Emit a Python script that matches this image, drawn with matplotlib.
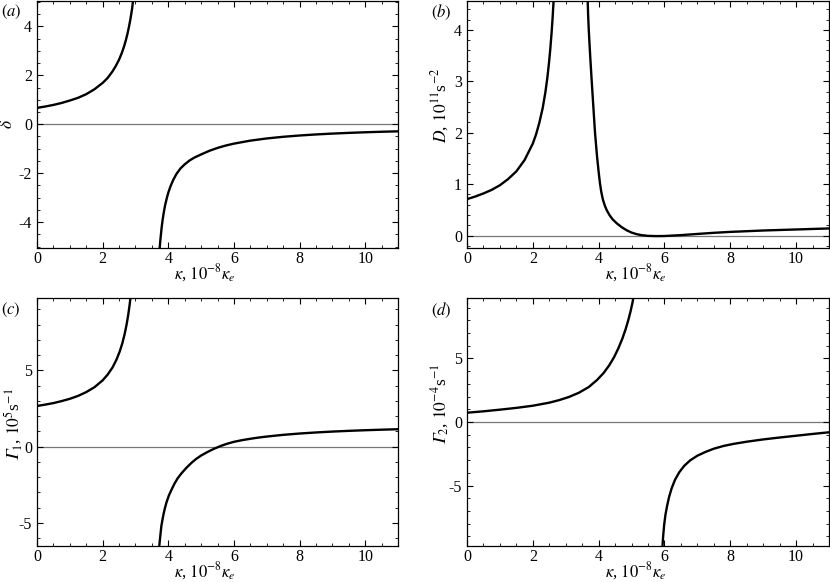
import numpy as np
import matplotlib
matplotlib.use('Agg')
import matplotlib.pyplot as plt
from matplotlib.ticker import MultipleLocator

plt.rcParams['font.family'] = ['Liberation Serif', 'DejaVu Serif']
plt.rcParams['mathtext.fontset'] = 'stix'
plt.rcParams['axes.unicode_minus'] = False

# (a) delta, two branches
a_x1 = [0, 0.25, 0.5, 0.75, 1.0, 1.25, 1.5, 1.75, 2.0, 2.15, 2.3, 2.4, 2.5, 2.58, 2.65, 2.71,
        2.76, 2.8, 2.84, 2.87, 2.9, 2.93]
a_y1 = [0.67, 0.725, 0.79, 0.87, 0.97, 1.08, 1.23, 1.43, 1.69, 1.89, 2.16, 2.38, 2.64, 2.90, 3.17, 3.45,
        3.72, 3.97, 4.25, 4.49, 4.75, 5.1]
a_x2 = [3.735, 3.76, 3.78, 3.8, 3.83, 3.86, 3.9, 3.95, 4.0, 4.07, 4.15, 4.25, 4.37, 4.5, 4.65, 4.8,
        5.0, 5.25, 5.5, 5.75, 6.0, 6.5, 7.0, 7.5, 8.0, 8.5, 9.0, 9.5, 10.0, 10.5, 11.0]
a_y2 = [-5.1, -4.72, -4.46, -4.2, -3.89, -3.63, -3.33, -3.05, -2.8, -2.53, -2.28, -2.03, -1.81, -1.64, -1.48, -1.36,
        -1.235, -1.087, -0.968, -0.871, -0.793, -0.670, -0.581, -0.513, -0.460, -0.417, -0.382, -0.353, -0.328,
        -0.307, -0.290]

# (b) D
b_x1 = [0, 0.25, 0.5, 0.75, 1.0, 1.25, 1.5, 1.75, 2.0, 2.1, 2.2, 2.3, 2.38, 2.44, 2.49, 2.53,
        2.57, 2.6, 2.63, 2.65]
b_y1 = [0.71, 0.76, 0.82, 0.89, 0.98, 1.10, 1.25, 1.47, 1.79, 1.97, 2.20, 2.48, 2.78, 3.06, 3.35, 3.62,
        3.94, 4.22, 4.55, 4.80]
b_x2 = [3.665, 3.68, 3.70, 3.725, 3.75, 3.79, 3.84, 3.89, 3.95, 4.0, 4.04, 4.08, 4.13, 4.19, 4.25, 4.33,
        4.42, 4.55, 4.7, 4.85, 5.0, 5.15, 5.3, 5.5, 5.75, 6.0, 6.5, 7.0, 7.5, 8.0, 9.0, 10.0, 11.0]
b_y2 = [4.62, 4.3, 4.0, 3.7, 3.42, 3.0, 2.5, 2.0, 1.55, 1.24, 1.02, 0.85, 0.70, 0.58, 0.49, 0.40,
        0.32, 0.24, 0.165, 0.105, 0.06, 0.03, 0.01, -0.004, -0.009, -0.007, 0.01, 0.033, 0.055, 0.073,
        0.10, 0.12, 0.14]

# (c) Gamma_1
c_x1 = [0, 0.25, 0.5, 0.75, 1.0, 1.25, 1.5, 1.75, 2.0, 2.15, 2.3, 2.42, 2.52, 2.6, 2.67, 2.73,
        2.78, 2.82, 2.855]
c_y1 = [2.66, 2.75, 2.85, 2.98, 3.13, 3.32, 3.57, 3.89, 4.34, 4.71, 5.18, 5.69, 6.23, 6.77, 7.37, 8.0,
        8.64, 9.25, 9.88]
c_x2 = [3.72, 3.75, 3.79, 3.84, 3.89, 3.95, 4.02, 4.09, 4.18, 4.28, 4.4, 4.55, 4.7, 4.85, 5.0, 5.2,
        5.4, 5.6, 5.8, 6.0, 6.25, 6.5, 6.75, 7.0, 7.5, 8.0, 8.5, 9.0, 9.5, 10.0, 10.5, 11.0]
c_y2 = [-6.65, -6.0, -5.2, -4.6, -4.1, -3.63, -3.2, -2.87, -2.47, -2.1, -1.76, -1.40, -1.08, -0.81, -0.59, -0.35,
        -0.14, 0.04, 0.19, 0.31, 0.42, 0.51, 0.59, 0.655, 0.768, 0.854, 0.924, 0.982, 1.03, 1.071, 1.106, 1.137]

# (d) Gamma_2
d_x1 = [0, 0.5, 1.0, 1.5, 2.0, 2.5, 2.8, 3.1, 3.4, 3.7, 3.95, 4.15, 4.32, 4.47, 4.6, 4.72,
        4.82, 4.9, 4.97, 5.03, 5.07]
d_y1 = [0.73, 0.84, 0.97, 1.11, 1.28, 1.52, 1.72, 1.97, 2.3, 2.75, 3.3, 3.85, 4.45, 5.1, 5.8, 6.55,
        7.3, 8.0, 8.7, 9.4, 10.0]
d_x2 = [5.935, 5.96, 5.99, 6.03, 6.08, 6.14, 6.22, 6.32, 6.45, 6.6, 6.78, 7.0, 7.25, 7.5, 7.8, 8.1,
        8.5, 9.0, 9.5, 10.0, 10.5, 11.0]
d_y2 = [-10.0, -9.0, -8.1, -7.3, -6.6, -5.9, -5.2, -4.55, -3.95, -3.45, -3.02, -2.65, -2.35, -2.1, -1.88, -1.72,
        -1.55, -1.37, -1.22, -1.08, -0.94, -0.81]

fig = plt.figure(figsize=(8.3, 5.82), dpi=100)

W, H = 830, 582
def add_ax(l, r, t, b):
    return fig.add_axes([l / W, 1 - b / H, (r - l) / W, (b - t) / H])

panels = [
    (add_ax(37, 398, 0.5, 248), (a_x1, a_y1), (a_x2, a_y2), (-5.06, 5.06), 2, 0.5,
     r'$\delta$', 'a', (-0.058, 0.5)),
    (add_ax(467, 829, 0.5, 248), (b_x1, b_y1), (b_x2, b_y2), (-0.24, 4.57), 1, 0.2,
     r'$D$, $10^{11}$s$^{-2}$', 'b', (-0.045, 0.577)),
    (add_ax(37, 398, 298, 546), (c_x1, c_y1), (c_x2, c_y2), (-6.52, 9.74), 5, 1,
     r'$𝛤_1$, $10^5$s$^{-1}$', 'c', (-0.035, 0.49)),
    (add_ax(467, 829, 298, 546), (d_x1, d_y1), (d_x2, d_y2), (-9.75, 9.75), 5, 1,
     r'$𝛤_2$, $10^{-4}$s$^{-1}$', 'd', (-0.045, 0.573)),
]

for ax, br1, br2, ylim, ymaj, ymin, ylab, tag, lc in panels:
    ax.axhline(0, color='#777777', lw=0.9, zorder=1)
    ax.plot(br1[0], br1[1], color='black', lw=1.7, zorder=2)
    ax.plot(br2[0], br2[1], color='black', lw=1.7, zorder=2)
    ax.set_xlim(0, 11)
    ax.set_ylim(*ylim)
    ax.xaxis.set_major_locator(MultipleLocator(2))
    ax.xaxis.set_minor_locator(MultipleLocator(0.5))
    ax.yaxis.set_major_locator(MultipleLocator(ymaj))
    ax.yaxis.set_minor_locator(MultipleLocator(ymin))
    ax.tick_params(which='both', direction='in', top=True, right=True, labelsize=11.5)
    ax.tick_params(which='major', length=4, width=0.8)
    ax.tick_params(which='minor', length=2.5, width=0.6)
    ax.tick_params(axis='x', pad=2)
    for s in ax.spines.values():
        s.set_linewidth(0.9)
    ax.set_xlabel(r'$\kappa$, $10^{-8}\kappa_e$', fontsize=12)
    ax.xaxis.set_label_coords(0.465, -0.057)
    ax.set_ylabel(ylab, fontsize=12.5)
    ax.yaxis.set_label_coords(*lc)
    ax.text(-0.1, 0.99, r'$(\mathit{' + tag + r'})$', transform=ax.transAxes,
            fontsize=12, ha='left', va='top')

fig.savefig('out.png', dpi=100)
